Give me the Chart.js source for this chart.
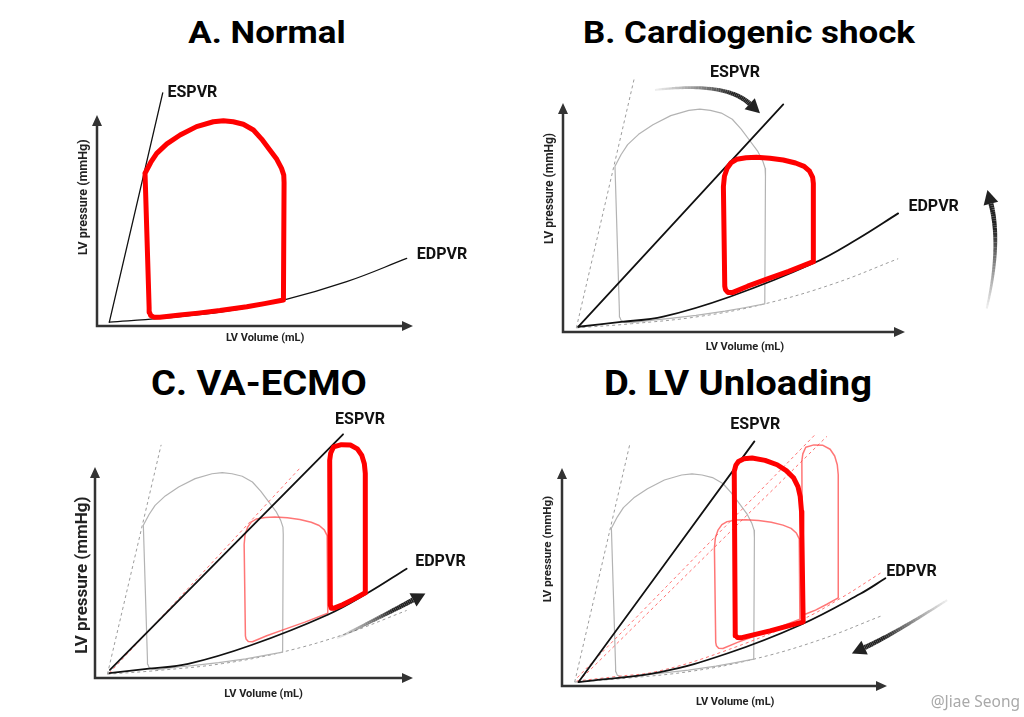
<!DOCTYPE html>
<html lang="en">
<head>
<meta charset="UTF-8">
<title>LV pressure-volume loops</title>
<script src="https://cdn.jsdelivr.net/npm/chart.js"></script>
<style>
    body { margin: 0; background: #fff; font-family: Roboto, sans-serif; }
    #page { position: relative; width: 1024px; height: 717px; overflow: hidden; background: #fff; }
    canvas { position: absolute; }
    .title {
        position: absolute; width: 400px; text-align: center; white-space: nowrap;
        font-weight: 700; color: #000; line-height: 1;
        transform: scaleX(1.09); transform-origin: center;
    }
    .mark { position: absolute; right: 4px; top: 694px; font: 15.5px "Noto Sans", sans-serif; line-height: 1; color: #a9a9a9; }
</style>
</head>
<body>
<div id="page">
    <div class="title" style="left:66.5px; top:15.6px; font-size:32px;">A. Normal</div>
    <div class="title" style="left:549px; top:16px; font-size:32px;">B. Cardiogenic shock</div>
    <div class="title" style="left:59px; top:365.5px; font-size:35px;">C. VA-ECMO</div>
    <div class="title" style="left:538px; top:365.5px; font-size:35px;">D. LV Unloading</div>

    <canvas id="panelA" width="512" height="358" style="left:0; top:0;"></canvas>
    <canvas id="panelB" width="512" height="358" style="left:512px; top:0;"></canvas>
    <canvas id="panelC" width="512" height="359" style="left:0; top:358px;"></canvas>
    <canvas id="panelD" width="512" height="359" style="left:512px; top:358px;"></canvas>

    <div class="mark">@Jiae Seong</div>
</div>
<script>
    // volume / pressure in relative units: 0 = axis origin, 100 = arrow tip
    const normalEspvr = [[3.9, 1.8], [20.8, 110.5]];
    const normalEdpvr = [[3.9, 1.8], [20, 3.6], [40, 6.8], [59, 12.3], [79, 21], [98, 32]];
    const normalLoop = [[15.2, 72.4], [17, 77.5], [18.9, 81.8], [22.1, 86.3], [26.3, 90.5], [31.5, 94.5],
        [36.8, 96.8], [40, 97.3], [43.1, 96.8], [46.3, 95.6], [49.5, 92.9], [52.1, 88.6], [54.7, 83.4],
        [56.9, 79], [58.4, 74.7], [59.1, 71.5], [59.2, 68], [59, 12.3], [53, 10.6], [47.4, 9.1],
        [38.9, 7.3], [32, 6.1], [26.3, 5.2], [19.9, 4.1], [18, 4.2], [17, 5], [16.6, 6.5], [16.5, 8.5],
        [15.2, 72.4]];

    const shockEspvr = [[4.5, 2.3], [64.4, 99.4]];
    const shockEdpvr = [[4.5, 2.3], [17, 4.4], [29.3, 6.7], [48.8, 15.4], [73.2, 30], [86, 40.5], [98, 51.8]];
    const shockLoop = [[46.9, 63.4], [47.2, 68], [48, 71.5], [49.2, 74], [50.8, 75.4], [53.5, 76.1],
        [56.6, 76.3], [60.5, 75.9], [64.4, 75.1], [68, 73.8], [70.5, 72.3], [72.1, 70.2], [73, 67.5],
        [73.2, 64.9], [73.2, 30.7], [66, 26.5], [60, 23.3], [54, 20], [49.5, 17.2], [48.2, 17.3],
        [47.5, 18.5], [47.3, 20], [46.9, 63.4]];

    const ecmoEspvr = [[4.7, 3.8], [78, 115.5]];
    const ecmoLoop = [[73.8, 103.2], [74.1, 106.5], [75, 109.5], [77.5, 110.6], [80.3, 110.4],
        [82.5, 108.6], [83.9, 105.5], [84.7, 101.5], [85, 96.9], [85, 40.4], [81.5, 37.5], [78, 34.8],
        [75, 33], [74.3, 33.1], [74, 34.5], [73.8, 103.2]];

    const unloadEspvr = [[5.1, 1.8], [59.2, 112.2]];
    const unloadEspvrAlt = [[5, 2], [81.5, 114.5]];
    const unloadEdpvr = [[5.1, 1.8], [30.2, 6.4], [50.8, 14.9], [73.3, 28], [91.8, 42.3], [99.5, 49.4]];
    const unloadLoop = [[53, 98.4], [53.5, 101.3], [54.3, 103], [56, 104.2], [58.5, 104.6], [62.5, 103.5],
        [66.2, 101.5], [69, 98.8], [71.3, 95.4], [72.6, 91.5], [73.3, 86.9], [73.7, 80], [73.8, 70.1],
        [74.2, 29.4], [64, 25.3], [55, 22.1], [54, 22.2], [53.5, 23], [53.3, 24.5], [53, 98.4]];

    // curved shift arrows: start, middle, tip
    const shockArrowTop = [[26.9, 105.7], [44.9, 105], [57.6, 95.5]];
    const shockArrowSide = [[123.9, 10.3], [126.1, 37.2], [124.1, 62]];
    const ecmoArrow = [[76.1, 18.8], [89.7, 29], [103.9, 40.1]];
    const unloadArrow = [[118.5, 39.4], [103.1, 25.6], [89.2, 14.9]];

    const styles = {
        bold:     { borderColor: '#ff0000', borderWidth: 5, tension: 0 },
        faded:    { borderColor: 'rgba(255,60,60,0.7)', borderWidth: 1.5, tension: 0 },
        grey:     { borderColor: '#b3b3b3', borderWidth: 1.2, tension: 0 },
        solid:    { borderColor: '#111', borderWidth: 1.8, tension: 0.4 },
        thin:     { borderColor: '#111', borderWidth: 1.3, tension: 0.4 },
        dashGrey: { borderColor: '#9c9c9c', borderWidth: 1, borderDash: [3, 3], borderCapStyle: 'butt', tension: 0.4 },
        dashRed:  { borderColor: 'rgba(255,90,90,0.85)', borderWidth: 1, borderDash: [3, 3], borderCapStyle: 'butt', tension: 0.4 }
    };

    // first dataset ends up on top
    function ds(arr, style) {
        return Object.assign({
            data: arr.map(([x, y]) => ({ x, y })),
            showLine: true, pointRadius: 0, clip: false,
            borderJoinStyle: 'round', borderCapStyle: 'round'
        }, styles[style]);
    }

    function toPx(chart, p) {
        return { x: chart.scales.x.getPixelForValue(p[0]), y: chart.scales.y.getPixelForValue(p[1]) };
    }

    function drawShiftArrow(ctx, chart, arr) {
        const s = toPx(chart, arr[0]), m = toPx(chart, arr[1]), e = toPx(chart, arr[2]);
        const c = { x: 2 * m.x - (s.x + e.x) / 2, y: 2 * m.y - (s.y + e.y) / 2 };
        let dx = e.x - c.x, dy = e.y - c.y;
        const len = Math.hypot(dx, dy);
        dx /= len; dy /= len;
        const head = 14, hw = 7.5;
        const b = { x: e.x - dx * head, y: e.y - dy * head };
        const n = 40;
        let px = s.x, py = s.y;
        ctx.lineCap = 'butt';
        for (let i = 1; i <= n; i++) {
            const t = i / n, u = 1 - t;
            const qx = u * u * s.x + 2 * u * t * c.x + t * t * b.x;
            const qy = u * u * s.y + 2 * u * t * c.y + t * t * b.y;
            ctx.strokeStyle = `rgba(34,34,34,${Math.min(1, 0.05 + t * 1.3)})`;
            ctx.lineWidth = 2 + 3 * t;
            ctx.beginPath();
            ctx.moveTo(px, py);
            ctx.lineTo(qx, qy);
            ctx.stroke();
            px = qx; py = qy;
        }
        ctx.fillStyle = '#222';
        ctx.beginPath();
        ctx.moveTo(e.x, e.y);
        ctx.lineTo(b.x - dy * hw, b.y + dx * hw);
        ctx.lineTo(b.x + dy * hw, b.y - dx * hw);
        ctx.closePath();
        ctx.fill();
    }

    const pvDecor = {
        id: 'pvDecor',
        beforeDatasetsDraw(chart, args, o) {
            const { ctx, chartArea: a } = chart;
            ctx.save();
            ctx.strokeStyle = '#333';
            ctx.fillStyle = '#333';
            ctx.lineWidth = 2.5;
            ctx.beginPath();
            ctx.moveTo(a.left, a.top + 10);
            ctx.lineTo(a.left, a.bottom);
            ctx.lineTo(a.right - 10, a.bottom);
            ctx.stroke();
            ctx.beginPath();
            ctx.moveTo(a.left, a.top);
            ctx.lineTo(a.left - 5, a.top + 11);
            ctx.lineTo(a.left + 5, a.top + 11);
            ctx.closePath();
            ctx.moveTo(a.right, a.bottom);
            ctx.lineTo(a.right - 11, a.bottom - 5);
            ctx.lineTo(a.right - 11, a.bottom + 5);
            ctx.closePath();
            ctx.fill();

            ctx.fillStyle = '#222';
            ctx.textAlign = 'center';
            ctx.textBaseline = 'middle';
            ctx.font = '700 11px Roboto';
            ctx.fillText('LV Volume (mL)', chart.scales.x.getPixelForValue(o.xTitle[0]), a.bottom + o.xTitle[1]);
            ctx.translate(a.left - o.yTitle[1], chart.scales.y.getPixelForValue(o.yTitle[0]));
            ctx.rotate(-Math.PI / 2);
            ctx.font = `700 ${o.yTitle[2]}px Roboto`;
            ctx.fillText('LV pressure (mmHg)', 0, 0);
            ctx.restore();
        },
        afterDatasetsDraw(chart, args, o) {
            const ctx = chart.ctx;
            ctx.save();
            ctx.fillStyle = '#111';
            ctx.textAlign = 'left';
            ctx.textBaseline = 'middle';
            ctx.font = '700 16px Roboto';
            (o.labels || []).forEach(l => {
                const p = toPx(chart, l.at);
                ctx.fillText(l.text, p.x, p.y);
            });
            (o.arrows || []).forEach(arr => drawShiftArrow(ctx, chart, arr));
            ctx.restore();
        }
    };

    function makePanel(id, padding, datasets, decor) {
        new Chart(document.getElementById(id), {
            type: 'scatter',
            data: { datasets },
            options: {
                responsive: false,
                animation: false,
                events: [],
                layout: { padding },
                elements: { line: { capBezierPoints: false } },
                scales: {
                    x: { type: 'linear', min: 0, max: 100, display: false },
                    y: { type: 'linear', min: 0, max: 100, display: false }
                },
                plugins: { legend: { display: false }, tooltip: { enabled: false }, pvDecor: decor }
            },
            plugins: [pvDecor]
        });
    }

    makePanel('panelA', { left: 97, top: 115, right: 99, bottom: 32 }, [
        ds(normalLoop, 'bold'),
        ds(normalEspvr, 'thin'),
        ds(normalEdpvr, 'thin')
    ], {
        xTitle: [53.2, 12], yTitle: [61, 13, 12.5],
        labels: [{ text: 'ESPVR', at: [22.3, 110.6] }, { text: 'EDPVR', at: [101.2, 33.6] }]
    });

    makePanel('panelB', { left: 51, top: 103, right: 119, bottom: 26 }, [
        ds(shockLoop, 'bold'),
        ds(shockEspvr, 'solid'),
        ds(shockEdpvr, 'solid'),
        ds(normalLoop, 'grey'),
        ds(normalEspvr, 'dashGrey'),
        ds(normalEdpvr, 'dashGrey')
    ], {
        xTitle: [53.2, 15.5], yTitle: [62.7, 13, 12],
        labels: [{ text: 'ESPVR', at: [43, 113] }, { text: 'EDPVR', at: [101, 54.7] }],
        arrows: [shockArrowTop, shockArrowSide]
    });

    makePanel('panelC', { left: 95, top: 109, right: 99, bottom: 39 }, [
        ds(ecmoLoop, 'bold'),
        ds(ecmoEspvr, 'solid'),
        ds(shockEdpvr, 'solid'),
        ds(shockLoop, 'faded'),
        ds(shockEspvr, 'dashRed'),
        ds(normalLoop, 'grey'),
        ds(normalEspvr, 'dashGrey'),
        ds(normalEdpvr, 'dashGrey')
    ], {
        xTitle: [53, 16], yTitle: [48.7, 12, 17],
        labels: [{ text: 'ESPVR', at: [75.5, 122.1] }, { text: 'EDPVR', at: [100.7, 55] }],
        arrows: [ecmoArrow]
    });

    makePanel('panelD', { left: 50, top: 110, right: 137, bottom: 31 }, [
        ds(unloadLoop, 'bold'),
        ds(unloadEspvr, 'solid'),
        ds(unloadEdpvr, 'solid'),
        ds(ecmoLoop, 'faded'),
        ds(shockLoop, 'faded'),
        ds(ecmoEspvr, 'dashRed'),
        ds(unloadEspvrAlt, 'dashRed'),
        ds(shockEdpvr, 'dashRed'),
        ds(normalLoop, 'grey'),
        ds(normalEspvr, 'dashGrey'),
        ds(normalEdpvr, 'dashGrey')
    ], {
        xTitle: [53.3, 16], yTitle: [62.8, 13.4, 11.5],
        labels: [{ text: 'ESPVR', at: [51.8, 119.9] }, { text: 'EDPVR', at: [99.8, 52.4] }],
        arrows: [unloadArrow]
    });
</script>
</body>
</html>
